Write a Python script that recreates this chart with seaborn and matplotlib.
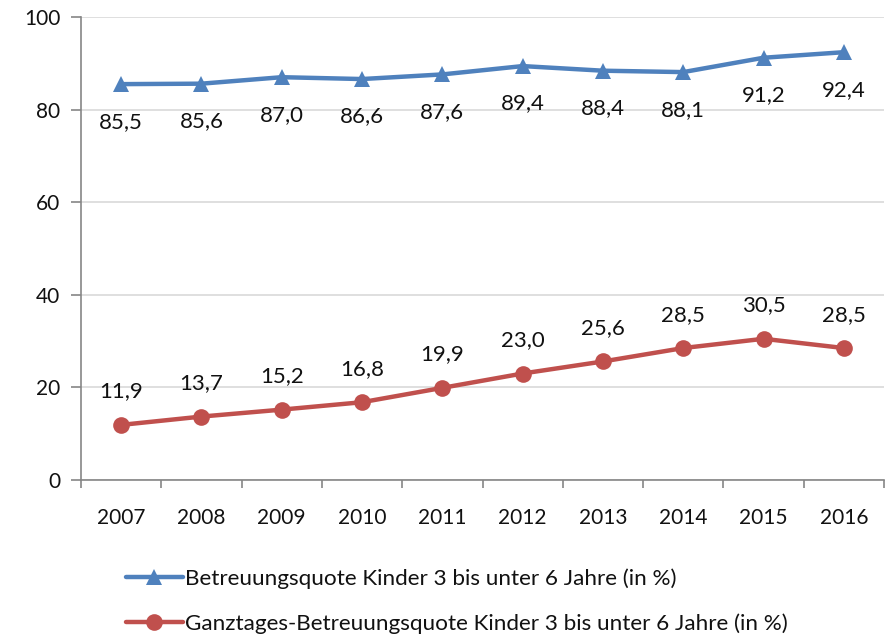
import matplotlib
matplotlib.use("Agg")
import matplotlib.pyplot as plt
import seaborn as sns
import pandas as pd
import numpy as np
from matplotlib.ticker import FixedLocator
from matplotlib.lines import Line2D

years = ["2007", "2008", "2009", "2010", "2011", "2012", "2013", "2014", "2015", "2016"]
betreuung = [85.5, 85.6, 87.0, 86.6, 87.6, 89.4, 88.4, 88.1, 91.2, 92.4]
ganztag = [11.9, 13.7, 15.2, 16.8, 19.9, 23.0, 25.6, 28.5, 30.5, 28.5]
series_names = ["Betreuungsquote Kinder 3 bis unter 6 Jahre (in %)",
                "Ganztages-Betreuungsquote Kinder 3 bis unter 6 Jahre (in %)"]
colors = ["#4F81BD", "#C0504D"]
markers = ["^", "o"]

sns.set_theme(style="white")
plt.rcParams['font.family'] = ['Lato', 'DejaVu Sans']

df = pd.DataFrame({
    "x": list(range(len(years))) * 2,
    "value": betreuung + ganztag,
    "series": [series_names[0]] * len(years) + [series_names[1]] * len(years),
})

fig = plt.figure(figsize=(8.87, 6.37), dpi=100)
ax = fig.add_axes([81/887, 1-480/637, (884-81)/887, (480-17)/637])

sns.lineplot(data=df, x="x", y="value", hue="series", style="series",
             palette=colors, markers=markers, dashes=False, linewidth=3.2,
             markersize=12, markeredgewidth=0, ax=ax, legend=False)

txt = "#111111"
ax.set_xlim(-0.5, len(years) - 0.5)
ax.set_ylim(0, 100)
ax.set_yticks([0, 20, 40, 60, 80, 100])
ax.yaxis.grid(True, color="#D9D9D9", linewidth=1.2)
ax.set_axisbelow(True)
ax.set_xticks(range(len(years)))
ax.set_xticklabels(years)
ax.xaxis.set_minor_locator(FixedLocator(np.arange(-0.5, len(years), 1.0)))
ax.tick_params(axis="x", which="major", length=0, pad=20, labelsize=15, colors=txt)
ax.tick_params(axis="x", which="minor", length=6, width=1.2, color="#868686", direction="out", bottom=True)
ax.tick_params(axis="y", length=7, width=1.2, color="#868686", direction="out", left=True,
               labelsize=15, pad=8, labelcolor=txt)
ax.set_xlabel("")
ax.set_ylabel("")
for s in ["top", "right"]:
    ax.spines[s].set_visible(False)
for s in ["left", "bottom"]:
    ax.spines[s].set_color("#868686")
    ax.spines[s].set_linewidth(1.2)

def fmt(v):
    return f"{v:.1f}".replace(".", ",")

for i, v in enumerate(betreuung):
    ax.annotate(fmt(v), (i, v), xytext=(0, -27), textcoords="offset points",
                ha="center", va="center", fontsize=16, color=txt)
for i, v in enumerate(ganztag):
    ax.annotate(fmt(v), (i, v), xytext=(0, 24), textcoords="offset points",
                ha="center", va="center", fontsize=16, color=txt)

handles = [Line2D([], [], color=c, marker=m, linewidth=3.2, markersize=12, markeredgewidth=0)
           for c, m in zip(colors, markers)]
fig.legend(handles, series_names, loc="center left", bbox_to_anchor=(106/887, 1-601/637),
           frameon=False, fontsize=16.2, handlelength=2.5, handletextpad=0.1,
           labelspacing=1.1, labelcolor=txt)

fig.savefig("out.png", dpi=100)
